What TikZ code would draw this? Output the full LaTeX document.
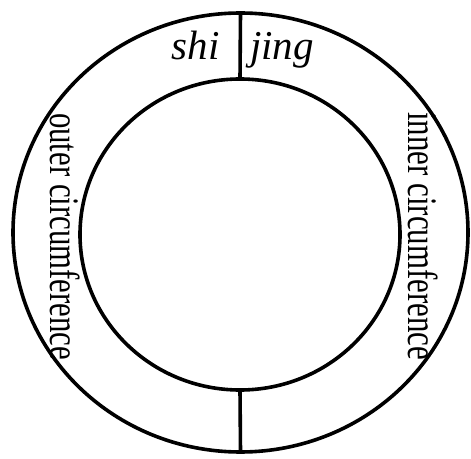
\documentclass[tikz,border=0pt]{standalone}
\usepackage{fontspec}
\setmainfont{Liberation Serif}
\usetikzlibrary{shapes.geometric}
\begin{document}
\begin{tikzpicture}[x=1pt,y=1pt,
  ring/.style={draw, ellipse, line width=3.6pt, inner sep=0pt, outer sep=0pt},
  divider/.style={line width=3.6pt},
  toptext/.style={inner sep=0pt, font=\fontsize{41}{49}\selectfont\itshape},
  sidetext/.style={inner sep=0pt, rotate=-90, anchor=base west, font=\fontsize{42}{50}\selectfont}]
\useasboundingbox (0,0) rectangle (471,458);
\node[ring, minimum width=455pt, minimum height=439pt] (outer) at (240.5,225.5) {};
\node[ring, minimum width=320pt, minimum height=311pt] (inner) at (240,223.5) {};
\draw[divider] (outer.north) -- (inner.north);
\draw[divider] (inner.south) -- (outer.south);
\node[toptext, anchor=base east] (shi) at (220,398) {shi};
\node[toptext, anchor=base west] (jing) at (250,398) {jing};
\node[sidetext] (outerlabel) at (50,345) {\resizebox{247pt}{\height}{outer circumference}};
\node[sidetext] (innerlabel) at (408,346) {\resizebox{248pt}{\height}{inner circumference}};
\end{tikzpicture}
\end{document}
